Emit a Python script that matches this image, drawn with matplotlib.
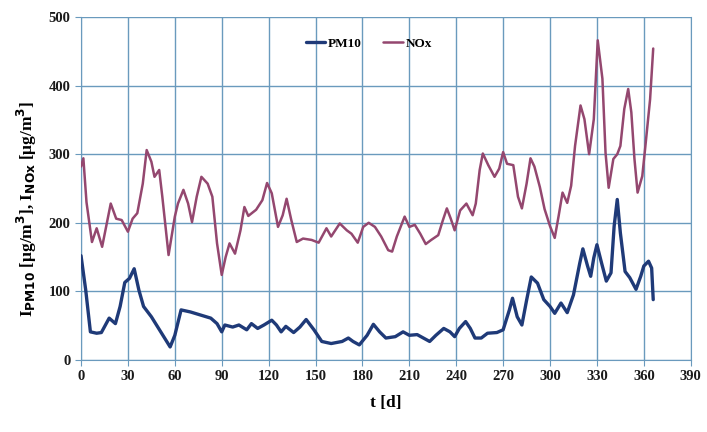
import matplotlib.pyplot as plt

plt.rcParams["font.family"] = ["Liberation Serif", "DejaVu Serif"]
plt.rcParams["font.weight"] = "bold"

# NOx concentration over the year
nox_days = [0, 1.5, 3.5, 7, 10, 13.5, 19, 22.5, 26, 30, 33, 36, 39.5, 42, 45, 47,
            50, 52, 56, 60, 62, 65.5, 68.5, 71, 74, 77, 81, 84, 87, 90, 92.5, 95,
            98.5, 102, 104.5, 107, 112, 116, 119, 122, 126, 129, 131.5, 134.5, 138,
            142, 147.5, 152, 157, 160, 165.5, 170, 173, 177, 180.5, 184, 188, 192,
            196.5, 199, 202, 207, 210, 213.5, 217, 220.5, 224, 228.5, 231.5, 234,
            236.5, 239, 242.5, 246.5, 250.5, 252.5, 255, 257, 260.5, 264.5, 267.5,
            270, 272.5, 276.5, 279.5, 282, 285, 287.5, 290, 293.5, 296.5, 300, 303,
            305.5, 308, 311, 313.5, 316, 319.5, 322, 325, 328, 330.5, 333.5, 335.5,
            337.5, 340.5, 343, 345, 347.5, 350, 352, 354, 356, 359, 361, 364, 366]
nox_vals = [282, 294, 230, 172, 192, 165, 228, 206, 204, 187, 206, 214, 257, 306, 289, 267,
            277, 238, 153, 209, 228, 248, 228, 201, 238, 267, 257, 238, 170, 124, 150, 170,
            155, 189, 223, 210, 219, 233, 258, 243, 194, 211, 235, 204, 172,
            177, 175, 171, 192, 180, 199, 189, 184, 171, 194, 200, 194, 180,
            160, 158, 180, 209, 194, 197, 184, 169, 175, 182, 204, 221,
            206, 189, 218, 228, 211, 228, 277, 301, 284, 267, 279,
            303, 286, 284, 238, 221, 257, 294, 282, 252, 220, 195, 178,
            210, 244, 229, 254, 312, 371, 351, 300, 351, 466, 410, 302,
            251, 293, 300, 312, 366, 395, 361, 293, 244, 268, 312, 380, 454]

# PM10 concentration over the year
pm_days = [0, 3, 6, 10, 13, 18, 22, 25, 28, 31, 34, 37, 40, 45, 51, 57, 60, 64, 70,
           83, 87, 90, 92, 97, 101, 106, 109, 113, 117, 122, 125, 128, 131, 136, 140,
           144, 149, 154, 160, 167, 171, 174, 178, 183, 187, 191, 195, 201, 206, 210,
           215, 219, 223, 227, 232, 236, 239, 242, 246, 249, 252, 256, 260, 266, 270,
           274, 276, 279, 282, 285, 288, 292, 296, 300, 303, 307, 311, 315, 319, 321,
           324, 326, 328, 330, 333, 336, 339, 341, 343, 345, 348, 351, 355, 358, 360,
           363, 365, 366]
pm_vals = [152, 102, 41, 39, 40, 61, 53, 78, 113, 119, 133, 102, 78, 63, 41, 19, 36, 73, 70,
           61, 53, 41, 51, 48, 51, 44, 53, 46, 51, 58, 51, 41, 49, 40, 48,
           59, 44, 27, 24, 27, 32, 27, 22, 36, 52, 41, 32, 34, 41, 36,
           37, 32, 27, 36, 46, 41, 34, 46, 56, 46, 32, 32, 39, 40, 44,
           73, 90, 63, 51, 87, 121, 112, 88, 78, 68, 83, 69, 95, 141, 162,
           137, 122, 149, 168, 141, 115, 127, 195, 234, 185, 129, 120, 103, 122, 137,
           144, 134, 88]

x_ticks = list(range(0, 391, 30))
y_ticks = list(range(0, 501, 100))

grid_color = "#6a9abd"

fig = plt.figure(figsize=(7.07, 4.32), dpi=100)
ax = fig.add_axes([0.1146, 0.1667, 0.8624, 0.794])

ax.plot(pm_days, pm_vals, color="#1f3a78", linewidth=2.4, label="PM10",
        solid_joinstyle="round", solid_capstyle="round", zorder=3)
ax.plot(nox_days, nox_vals, color="#94476f", linewidth=1.8, label="NOx",
        solid_joinstyle="round", solid_capstyle="round", zorder=3)

ax.set_xlim(0, 390)
ax.set_ylim(0, 500)
ax.set_xticks(x_ticks)
ax.set_yticks(y_ticks)
ax.grid(True, color=grid_color, linewidth=1.0)
for side in ax.spines.values():
    side.set_color(grid_color)
ax.spines["top"].set_visible(False)
ax.tick_params(colors=grid_color, labelcolor="#1a1a1a", labelsize=10.5, length=4)
for lbl in ax.get_xticklabels() + ax.get_yticklabels():
    lbl.set_fontweight("bold")

ax.set_xlabel("t [d]", fontsize=12.5, fontweight="bold", labelpad=8)
ax.set_ylabel(r"I$_{\mathbf{PM10}}$ [μg/m$^{\mathbf{3}}$], I$_{\mathbf{NOx}}$ [μg/m$^{\mathbf{3}}$]",
              fontsize=12.5, fontweight="bold")
ax.yaxis.set_label_coords(-0.069, 0.44)

ax.legend(loc="upper center", bbox_to_anchor=(0.472, 0.975), ncol=2, frameon=False,
          prop={"size": 9.5, "weight": "bold"}, handlelength=1.5, handletextpad=0.2,
          columnspacing=1.6)

fig.savefig("out.png", dpi=100)
